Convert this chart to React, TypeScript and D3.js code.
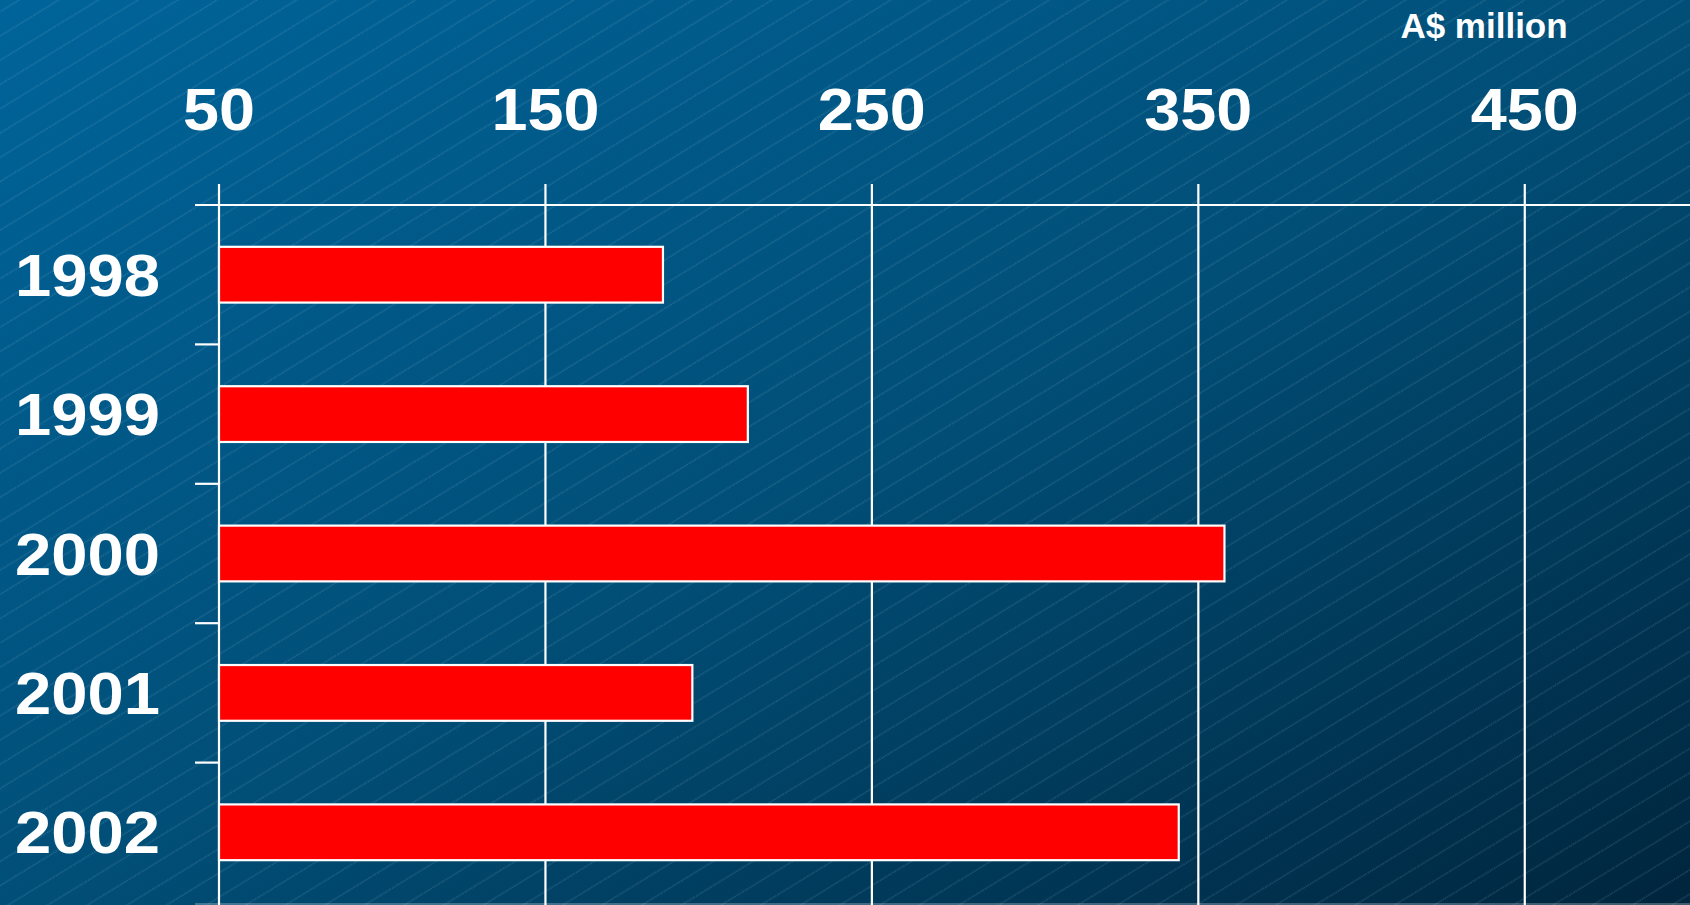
import { useEffect, useRef } from "react";
import * as d3 from "d3";

const years = ["1998", "1999", "2000", "2001", "2002"];
const values = [186, 212, 358, 195, 344];
const tickValues = [50, 150, 250, 350, 450];
const unitLabel = "A$ million";

export default function App() {
  const svgRef = useRef<SVGSVGElement>(null);

  useEffect(() => {
    if (!svgRef.current) return;
    const width = 1690;
    const height = 905;
    const font = "'Liberation Sans', Arial, sans-serif";

    d3.select(svgRef.current).selectAll("*").remove();
    const svg = d3.select(svgRef.current)
      .attr("width", width)
      .attr("height", height)
      .attr("viewBox", `0 0 ${width} ${height}`);

    // Background: diagonal gradient plus thin hatching
    const defs = svg.append("defs");
    const grad = defs.append("linearGradient")
      .attr("id", "bg")
      .attr("x1", "0").attr("y1", "0")
      .attr("x2", "1").attr("y2", "1");
    grad.append("stop").attr("offset", "0").attr("stop-color", "#00649a");
    grad.append("stop").attr("offset", "0.5").attr("stop-color", "#014f78");
    grad.append("stop").attr("offset", "1").attr("stop-color", "#00253d");

    const pat = defs.append("pattern")
      .attr("id", "hatch")
      .attr("patternUnits", "userSpaceOnUse")
      .attr("width", 40)
      .attr("height", 20.7)
      .attr("patternTransform", "rotate(-31.5)");
    pat.append("line")
      .attr("x1", 0).attr("x2", 40)
      .attr("y1", 10).attr("y2", 10)
      .attr("stroke", "#b5cfe0")
      .attr("stroke-opacity", 0.32)
      .attr("stroke-width", 0.9)
      .attr("stroke-dasharray", "1.5,1");

    svg.append("rect").attr("width", width).attr("height", height).attr("fill", "url(#bg)");
    svg.append("rect").attr("width", width).attr("height", height).attr("fill", "url(#hatch)");

    // Scales
    const x = d3.scaleLinear().domain([50, 500]).range([219, 1688]);
    const y = d3.scaleBand<string>()
      .domain(years)
      .range([205, 902])
      .paddingInner(0.6)
      .paddingOuter(0.3);
    const step = y.step();
    const top = 205;

    const g = svg.append("g");

    // Vertical gridlines
    g.selectAll("line.grid")
      .data(tickValues)
      .join("line")
      .attr("class", "grid")
      .attr("x1", d => x(d))
      .attr("x2", d => x(d))
      .attr("y1", 184)
      .attr("y2", height)
      .attr("stroke", "#ffffff")
      .attr("stroke-width", 2.2);

    // Top and bottom horizontal lines
    g.append("line")
      .attr("x1", 195).attr("x2", width)
      .attr("y1", top).attr("y2", top)
      .attr("stroke", "#ffffff").attr("stroke-width", 2.2);
    g.append("line")
      .attr("x1", 195).attr("x2", width)
      .attr("y1", 904).attr("y2", 904)
      .attr("stroke", "#ffffff").attr("stroke-opacity", 0.5).attr("stroke-width", 1);

    // Category ticks between bands
    g.selectAll("line.ytick")
      .data(years.slice(1))
      .join("line")
      .attr("class", "ytick")
      .attr("x1", 195)
      .attr("x2", x(50))
      .attr("y1", (d, i) => top + step * (i + 1))
      .attr("y2", (d, i) => top + step * (i + 1))
      .attr("stroke", "#ffffff")
      .attr("stroke-width", 2.2);

    // Bars
    g.selectAll("rect.bar")
      .data(years)
      .join("rect")
      .attr("class", "bar")
      .attr("x", x(50))
      .attr("y", d => y(d) as number)
      .attr("width", (d, i) => x(values[i]) - x(50))
      .attr("height", y.bandwidth())
      .attr("fill", "#ff0000")
      .attr("stroke", "#ffffff")
      .attr("stroke-width", 2.2);

    // Top tick labels
    g.selectAll("text.xlab")
      .data(tickValues)
      .join("text")
      .attr("class", "xlab")
      .attr("x", d => x(d))
      .attr("y", 130)
      .attr("text-anchor", "middle")
      .attr("fill", "#ffffff")
      .attr("font-family", font)
      .attr("font-weight", "bold")
      .attr("font-size", 59)
      .attr("textLength", d => String(d).length * 36)
      .attr("lengthAdjust", "spacingAndGlyphs")
      .text(d => String(d));

    // Year labels
    g.selectAll("text.ylab")
      .data(years)
      .join("text")
      .attr("class", "ylab")
      .attr("x", 15)
      .attr("y", d => (y(d) as number) + y.bandwidth() / 2 + 21)
      .attr("fill", "#ffffff")
      .attr("font-family", font)
      .attr("font-weight", "bold")
      .attr("font-size", 60)
      .attr("textLength", 145)
      .attr("lengthAdjust", "spacingAndGlyphs")
      .text(d => d);

    // Unit label
    svg.append("text")
      .attr("x", 1484)
      .attr("y", 38)
      .attr("text-anchor", "middle")
      .attr("fill", "#ffffff")
      .attr("font-family", font)
      .attr("font-weight", "bold")
      .attr("font-size", 35)
      .text(unitLabel);
  }, []);

  return (
    <div style={{ position: "absolute", left: 0, top: 0 }}>
      <svg ref={svgRef} style={{ display: "block" }} />
    </div>
  );
}
